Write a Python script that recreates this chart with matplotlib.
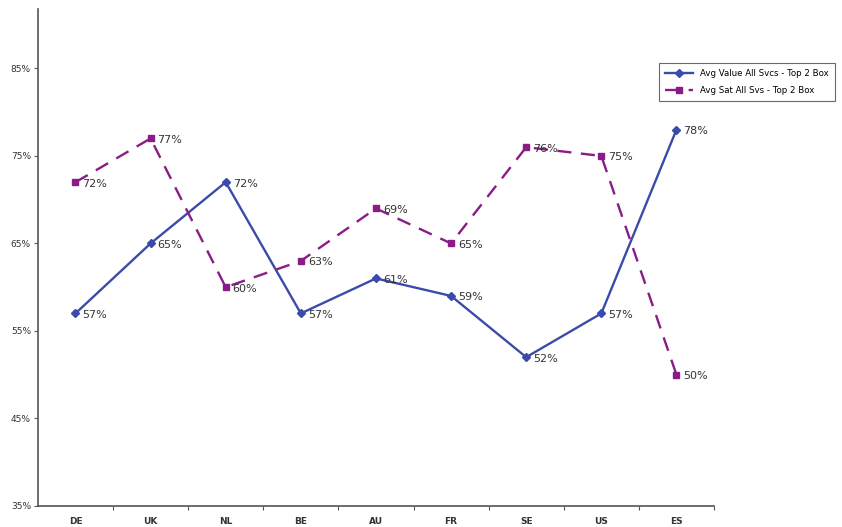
import matplotlib.pyplot as plt

countries = ['DE', 'UK', 'NL', 'BE', 'AU', 'FR', 'SE', 'US', 'ES']
avg_value = [57, 65, 72, 57, 61, 59, 52, 57, 78]
avg_sat = [72, 77, 60, 63, 69, 65, 76, 75, 50]
y_ticks = [35, 45, 55, 65, 75, 85]

blue = '#3B4BAA'
purple = '#8A1C86'

fig = plt.figure(figsize=(8.42, 5.27), dpi=100)
ax = fig.add_axes([0.045, 0.04, 0.803, 0.943])

x = list(range(len(countries)))
ax.plot(x, avg_value, color=blue, lw=1.7, marker='D', ms=4.2,
        label='Avg Value All Svcs - Top 2 Box')
ax.plot(x, avg_sat, color=purple, lw=1.7, ls=(0, (6, 4)), marker='s', ms=4.5,
        label='Avg Sat All Svs - Top 2 Box')

for xi, v in zip(x, avg_value):
    ax.annotate(f'{v}%', (xi, v), xytext=(5, -1), textcoords='offset points',
                va='center', ha='left', fontsize=8, color='#333333')
for xi, v in zip(x, avg_sat):
    ax.annotate(f'{v}%', (xi, v), xytext=(5, -1), textcoords='offset points',
                va='center', ha='left', fontsize=8, color='#333333')

ax.set_xlim(-0.5, len(countries) - 0.5)
ax.set_ylim(35, 91.8)
ax.set_yticks(y_ticks)
ax.set_yticklabels([f'{t}%' for t in y_ticks], fontsize=6.5, color='#333333')
ax.set_xticks([i - 0.5 for i in range(1, len(countries) + 1)])
ax.set_xticklabels([])
ax.set_xticks(x, minor=True)
ax.set_xticklabels(countries, minor=True, fontsize=6.5, fontweight='bold',
                   color='#333333')
ax.tick_params(axis='x', which='minor', length=0, pad=8)
ax.tick_params(axis='x', which='major', length=3, direction='out', color='#555555')
ax.tick_params(axis='y', length=3, direction='out', color='#555555', pad=2)
for s in ['top', 'right']:
    ax.spines[s].set_visible(False)
for s in ['left', 'bottom']:
    ax.spines[s].set_color('#555555')
    ax.spines[s].set_linewidth(1.2)

leg = fig.legend(loc='upper left', bbox_to_anchor=(0.778, 0.888), fontsize=6.2,
                 frameon=True, fancybox=False, handlelength=3.2,
                 borderpad=0.7, labelspacing=0.9)
leg.get_frame().set_edgecolor('#444444')
leg.get_frame().set_linewidth(0.8)

fig.savefig('out.png', dpi=100)
